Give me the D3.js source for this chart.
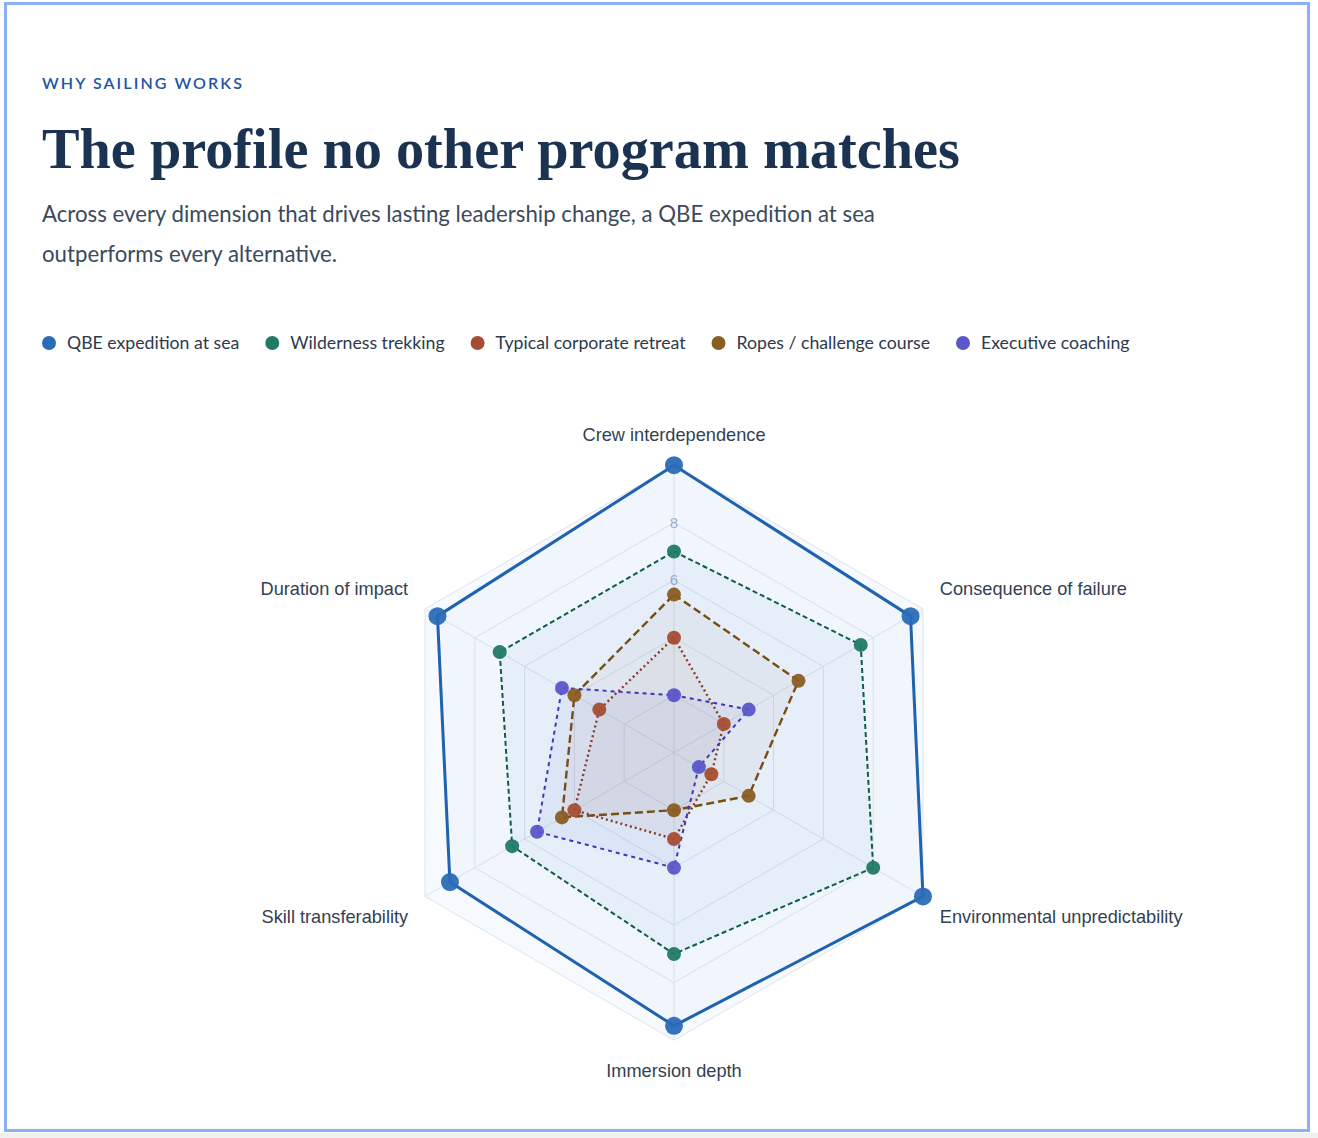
<!DOCTYPE html>
<html>
<head>
<meta charset="utf-8">
<script src="https://cdn.jsdelivr.net/npm/d3@7"></script>
<style>
  html, body { margin: 0; padding: 0; background: #fff; }
  svg { display: block; }
</style>
</head>
<body>
<div id="chart"></div>
<script>
// dimensions, clockwise from the top
const axes = [
  "Crew interdependence",
  "Consequence of failure",
  "Environmental unpredictability",
  "Immersion depth",
  "Skill transferability",
  "Duration of impact"
];
const seriesNames = [
  "QBE expedition at sea",
  "Wilderness trekking",
  "Typical corporate retreat",
  "Ropes / challenge course",
  "Executive coaching"
];
const qbe = [10, 9.5, 10, 9.5, 9, 9.5];
const wilderness = [7, 7.5, 8, 7, 6.5, 7];
const corporate = [4, 2, 1.5, 3, 4, 3];
const ropes = [5.5, 5, 3, 2, 4.5, 4];
const coaching = [2, 3, 1, 4, 5.5, 4.5];
const rings = [2, 4, 6, 8, 10];
const tickLabels = [2, 4, 6, 8];

(function () {
  const W = 1318, H = 1138;
  const cx = 674, cy = 752.7;

  const svg = d3.select("#chart").append("svg")
    .attr("width", W)
    .attr("height", H);

  // page + card with the blue frame
  svg.append("rect").attr("width", W).attr("height", H).attr("fill", "#ffffff");
  svg.append("rect").attr("x", 0).attr("y", 1133).attr("width", W).attr("height", 5).attr("fill", "#f0f0f0");
  svg.append("rect")
    .attr("x", 5.5).attr("y", 3.5).attr("width", 1303).attr("height", 1127)
    .attr("fill", "#ffffff")
    .attr("stroke", "#8ab1f6")
    .attr("stroke-width", 3);

  // scale a text so it spans a given width
  function fit(sel, target) {
    const fs = parseFloat(sel.attr("font-size"));
    const w = sel.node().getComputedTextLength();
    sel.attr("font-size", (fs * target / w).toFixed(2));
    return sel;
  }

  // header
  svg.append("text")
    .attr("x", 42).attr("y", 89)
    .attr("font-family", "Lato, 'Noto Sans', sans-serif")
    .attr("font-size", 16)
    .attr("font-weight", 600)
    .attr("letter-spacing", "2.1px")
    .attr("fill", "#1b55a6")
    .text("WHY SAILING WORKS");

  const title = svg.append("text")
    .attr("x", 42).attr("y", 168)
    .attr("font-family", "'Liberation Serif', 'DejaVu Serif', serif")
    .attr("font-size", 58)
    .attr("font-weight", 700)
    .attr("fill", "#1b3350")
    .text("The profile no other program matches");
  fit(title, 918);

  const subLines = [
    "Across every dimension that drives lasting leadership change, a QBE expedition at sea",
    "outperforms every alternative."
  ];
  const sub1 = svg.append("text")
    .attr("x", 42).attr("y", 222)
    .attr("font-family", "Lato, 'Noto Sans', sans-serif")
    .attr("font-size", 22)
    .attr("fill", "#3b4a5d")
    .text(subLines[0]);
  fit(sub1, 833);
  svg.append("text")
    .attr("x", 42).attr("y", 262)
    .attr("font-family", "Lato, 'Noto Sans', sans-serif")
    .attr("font-size", sub1.attr("font-size"))
    .attr("fill", "#3b4a5d")
    .text(subLines[1]);

  // colours per series
  const pointColor = d3.scaleOrdinal()
    .domain(seriesNames)
    .range(["#2a6cb7", "#217a65", "#a54d33", "#8a5d22", "#5b56c9"]);
  const lineColor = d3.scaleOrdinal()
    .domain(seriesNames)
    .range(["#1f62ae", "#0f5c4b", "#8c3a22", "#7a4d12", "#3e38b8"]);
  const fillColor = d3.scaleOrdinal()
    .domain(seriesNames)
    .range(["rgba(36,104,180,0.025)", "rgba(36,110,185,0.055)", "rgba(140,90,70,0.05)", "rgba(139,100,50,0.05)", "rgba(91,85,200,0.06)"]);
  const dash = d3.scaleOrdinal()
    .domain(seriesNames)
    .range(["none", "5 3", "2 3", "8 4", "4 4"]);
  const lineWidth = d3.scaleOrdinal()
    .domain(seriesNames)
    .range([3, 2, 2.4, 2.4, 2]);
  const pointR = d3.scaleOrdinal()
    .domain(seriesNames)
    .range([9, 7, 7, 7, 7]);

  // legend: one shared font size, fitted to the full row
  const legendFont = "Lato, 'Noto Sans', sans-serif";
  const legend = svg.append("g");
  const items = seriesNames.map(name => {
    const c = legend.append("circle")
      .attr("cy", 343).attr("r", 7)
      .attr("fill", pointColor(name));
    const t = legend.append("text")
      .attr("y", 343)
      .attr("dy", "0.35em")
      .attr("font-family", legendFont)
      .attr("font-size", 17)
      .attr("fill", "#2d3a4b")
      .text(name);
    return { c, t };
  });
  const rowText = d3.sum(items, d => d.t.node().getComputedTextLength());
  const legendSize = 17 * 859 / rowText;
  let lx = 49;
  items.forEach(d => {
    d.c.attr("cx", lx);
    d.t.attr("x", lx + 18).attr("font-size", legendSize.toFixed(2));
    lx = lx + 18 + d.t.node().getComputedTextLength() + 33;
  });

  // radar
  const rScale = d3.scaleLinear().domain([0, 10]).range([0, 287.5]);
  const angle = d3.scaleLinear().domain([0, axes.length]).range([0, 2 * Math.PI]);

  const g = svg.append("g").attr("transform", "translate(" + cx + "," + cy + ")");

  const radial = d3.lineRadial()
    .angle((d, i) => angle(i))
    .radius(d => rScale(d))
    .curve(d3.curveLinearClosed);

  function pos(v, i) {
    const a = angle(i);
    return [Math.sin(a) * rScale(v), -Math.cos(a) * rScale(v)];
  }

  // split area
  g.append("path")
    .attr("d", radial(axes.map(() => 10)))
    .attr("fill", "#f6faff");

  // rings and spokes
  g.selectAll(".ring")
    .data(rings)
    .enter().append("path")
    .attr("class", "ring")
    .attr("d", r => radial(axes.map(() => r)))
    .attr("fill", "none")
    .attr("stroke", "#dce3ed")
    .attr("stroke-width", 1);

  g.selectAll(".spoke")
    .data(axes)
    .enter().append("line")
    .attr("class", "spoke")
    .attr("x1", 0).attr("y1", 0)
    .attr("x2", (d, i) => pos(10, i)[0])
    .attr("y2", (d, i) => pos(10, i)[1])
    .attr("stroke", "#dce3ed")
    .attr("stroke-width", 1);

  g.selectAll(".tick-label")
    .data(tickLabels)
    .enter().append("text")
    .attr("class", "tick-label")
    .attr("x", 0)
    .attr("y", d => -rScale(d))
    .attr("dy", "0.35em")
    .attr("text-anchor", "middle")
    .attr("font-family", "'Liberation Sans', Arial, sans-serif")
    .attr("font-size", 15)
    .attr("fill", "#a6b2c6")
    .text(d => d);

  // axis names
  g.selectAll(".axis-name")
    .data(axes)
    .enter().append("text")
    .attr("class", "axis-name")
    .attr("x", (d, i) => pos(10, i)[0] / rScale(10) * 307)
    .attr("y", (d, i) => pos(10, i)[1] / rScale(10) * 307)
    .attr("dy", (d, i) => {
      const c = -Math.cos(angle(i));
      if (c < -0.1) return "-0.25em";
      if (c > 0.1) return "0.95em";
      return "0.35em";
    })
    .attr("text-anchor", (d, i) => {
      const s = Math.sin(angle(i));
      if (s > 0.1) return "start";
      if (s < -0.1) return "end";
      return "middle";
    })
    .attr("font-family", "'Liberation Sans', Arial, sans-serif")
    .attr("font-size", 18.2)
    .attr("fill", "#333f52")
    .text(d => d);

  // series
  const series = [qbe, wilderness, corporate, ropes, coaching];
  series.forEach((values, k) => {
    const name = seriesNames[k];
    g.append("path")
      .datum(values)
      .attr("d", radial)
      .attr("fill", fillColor(name))
      .attr("stroke", lineColor(name))
      .attr("stroke-width", lineWidth(name))
      .attr("stroke-dasharray", dash(name))
      .attr("stroke-linejoin", "round");
  });
  series.forEach((values, k) => {
    const name = seriesNames[k];
    g.selectAll(".pt-" + k)
      .data(values)
      .enter().append("circle")
      .attr("class", "pt-" + k)
      .attr("cx", (d, i) => pos(d, i)[0])
      .attr("cy", (d, i) => pos(d, i)[1])
      .attr("r", pointR(name))
      .attr("fill", pointColor(name))
      .attr("fill-opacity", 0.95);
  });
})();
</script>
</body>
</html>
